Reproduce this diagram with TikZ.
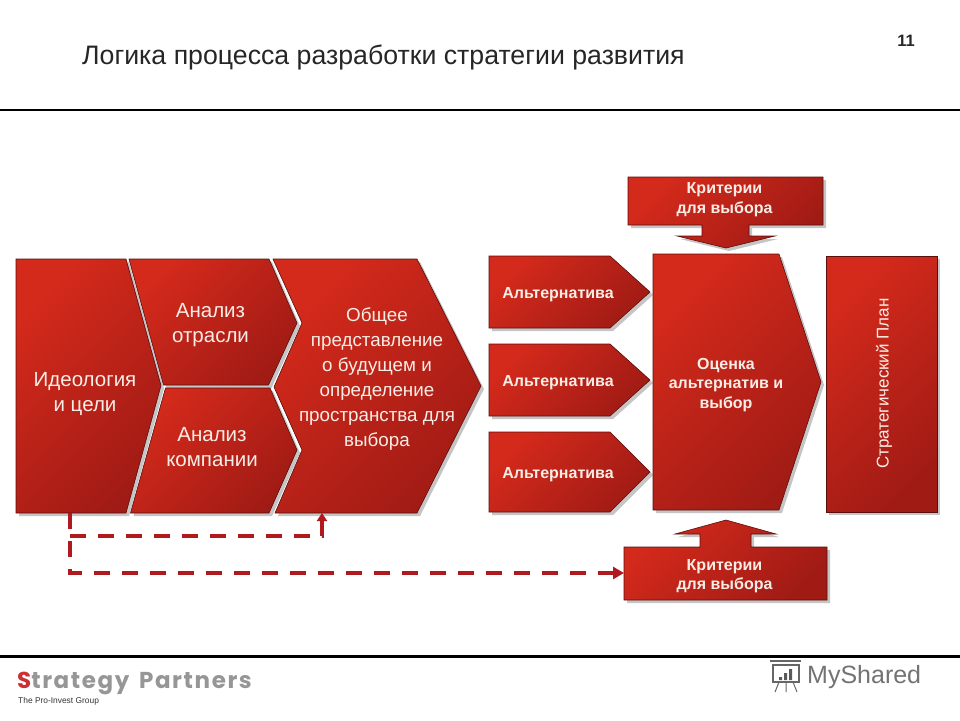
\documentclass[tikz,border=0pt]{standalone}
\usepackage{fontspec}
\setmainfont{Liberation Sans}
\newfontfamily\logofont[LetterSpace=7]{Poppins}
\usetikzlibrary{arrows.meta}
\definecolor{redhi}{HTML}{D42A1B}
\definecolor{redlo}{HTML}{A11B15}
\definecolor{redline}{HTML}{5A0F0C}
\definecolor{dashred}{HTML}{B01A1E}
\definecolor{txtw}{HTML}{F8EDE6}
\definecolor{logogrey}{HTML}{969696}
\definecolor{logored}{HTML}{CC3033}
\tikzset{
  blockfill/.style={top color=redhi,bottom color=redlo,shading angle=45,draw=redline,line width=0.6pt,line join=miter},
  blockshadow/.style={fill=black!45,opacity=0.5,shift={(3,3)}},
  label20/.style={text=txtw,align=center,font=\fontsize{20.5}{25.5}\selectfont,inner sep=0pt},
  labelb16/.style={text=txtw,align=center,font=\fontsize{16}{19.5}\selectfont\bfseries,inner sep=0pt},
  flowdash/.style={draw=dashred,line width=4pt,dash pattern=on 16pt off 12pt},
  rule/.style={draw=black},
}
\newcommand{\redblock}[1]{\fill[blockshadow] #1 -- cycle; \draw[blockfill] #1 -- cycle;}
\begin{document}
\begin{tikzpicture}[x=1pt,y=-1pt]
\useasboundingbox (0,0) rectangle (960,720);
\fill[white] (0,0) rectangle (960,720);
% rules and title
\coordinate (rt1) at (0,110); \coordinate (rt2) at (960,110);
\coordinate (rb1) at (0,656.5); \coordinate (rb2) at (960,656.5);
\draw[rule,line width=2pt] (rt1) -- (rt2);
\draw[rule,line width=3pt] (rb1) -- (rb2);
\node[anchor=base west,inner sep=0pt,text=black!85,font=\fontsize{26.7}{30}\selectfont] (title) at (82,64) {Логика процесса разработки стратегии развития};
\node[anchor=center,inner sep=0pt,font=\fontsize{16.5}{18}\selectfont\bfseries,text=black!85] (pageno) at (906,41) {11};
% left group
\redblock{(16,259) -- (126,259) -- (161,385.5) -- (126,513) -- (16,513)}
\redblock{(129,259) -- (269,259) -- (297,323) -- (268.5,385) -- (163.5,385)}
\redblock{(165.5,388) -- (270,388) -- (297,450) -- (269,513) -- (130.5,513)}
\redblock{(273,259) -- (417,259) -- (481,386) -- (417,513) -- (275,513) -- (302,450) -- (274,387) -- (302,323)}
\node[label20] (ideo) at (85,394) {Идеология\\и цели};
\node[label20] (otr) at (210.5,325) {Анализ\\отрасли};
\node[label20] (komp) at (212,447) {Анализ\\компании};
\node[label20,font=\fontsize{18.8}{24.9}\selectfont] (obsh) at (377,379) {Общее\\представление\\о будущем и\\определение\\пространства для\\выбора};
% alternatives
\redblock{(489,256) -- (610,256) -- (650,292) -- (610,328) -- (489,328)}
\redblock{(489,344) -- (610,344) -- (650,380) -- (610,416) -- (489,416)}
\redblock{(489,432) -- (610,432) -- (650,472) -- (610,512) -- (489,512)}
\node[labelb16] (alt1) at (558,294.5) {Альтернатива};
\node[labelb16] (alt2) at (558,382.5) {Альтернатива};
\node[labelb16] (alt3) at (558,474.5) {Альтернатива};
% evaluation and plan
\redblock{(653,254) -- (779,254) -- (821,382) -- (779,510) -- (653,510)}
\node[labelb16] (eval) at (726,385) {Оценка\\альтернатив и\\выбор};
\redblock{(826,256) -- (937,256) -- (937,512) -- (826,512)}
\node[labelb16,font=\fontsize{17}{18}\selectfont,rotate=90] (plan) at (884,383.5) {Стратегический План};
% criteria
\redblock{(628,177) -- (823,177) -- (823,225) -- (749,225) -- (749,236) -- (775,236) -- (726,248) -- (677,236) -- (702,236) -- (702,225) -- (628,225)}
\node[labelb16] (crit1) at (724.5,199.5) {Критерии\\для выбора};
\redblock{(624,547) -- (700,547) -- (700,534) -- (675,534) -- (726,520) -- (776,534) -- (751,534) -- (751,547) -- (827,547) -- (827,600) -- (624,600)}
\node[labelb16] (crit2) at (724.5,576) {Критерии\\для выбора};
% dashed feedback connectors
\coordinate (fbstart) at (70,513);
\coordinate (fbsplit) at (70,536);
\coordinate (fbcorner) at (70,573);
\coordinate (fbmid) at (322,536);
\coordinate (fbtop) at (322,526);
\coordinate (fbtip) at (322,513);
\coordinate (fbend) at (612,573);
\coordinate (fbtip2) at (624,573);
\draw[flowdash] (fbstart) -- (fbcorner) -- (fbend);
\draw[flowdash] (fbsplit) -- (fbmid) -- (fbtop);
\draw[draw=dashred,line width=4pt,-{Triangle[length=8pt,width=10pt]}] (fbtop) -- (fbtip);
\draw[draw=dashred,line width=4pt,-{Triangle[length=11pt,width=12pt]}] (fbend) -- (fbtip2);
% footer logos
\node[anchor=base west,inner sep=0pt,font=\fontsize{23}{24}\logofont,text=logogrey] (sp) at (17,688.5) {\textcolor{logored}{\bfseries S}\textbf{trategy}\hspace{8pt}\textbf{Partners}};
\node[anchor=base west,inner sep=0pt,font=\fontsize{8.4}{8.4}\selectfont,text=black!80] (pig) at (18,703.5) {The Pro-Invest Group};
\node[anchor=base west,inner sep=0pt,font=\fontsize{25}{28}\selectfont,text=black!55] (ms) at (807,683) {MyShared};
\draw[black!60,line width=1.2pt,fill=white] (773,665) rectangle (799,682);
\draw[black!60,line width=2pt] (770,661) -- (801,661);
\draw[black!60,line width=1pt] (779,682) -- (775,692) (793,682) -- (797,692) (786,682) -- (786,692);
\fill[black!65] (779,677) rectangle (782,680) (784,673) rectangle (787,680) (789,669) rectangle (792,680);
\end{tikzpicture}
\end{document}
